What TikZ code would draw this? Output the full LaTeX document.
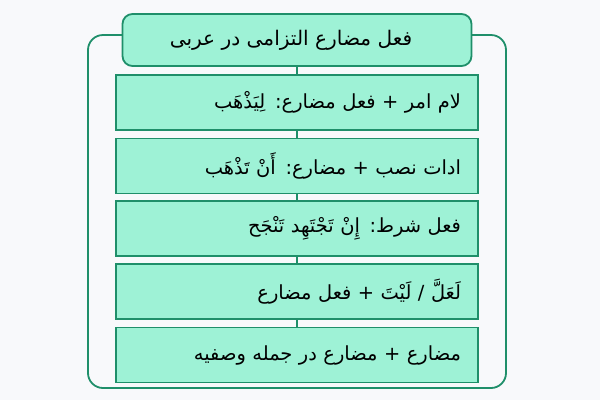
\documentclass[tikz,border=0pt]{standalone}
\usepackage{fontspec}
\usepackage{tikz}
\TeXXeTstate=1
\newfontfamily\arabicfont[Script=Arabic]{DejaVu Sans}
\definecolor{bgpage}{HTML}{F8F9FB}
\definecolor{mint}{HTML}{9EF2D6}
\definecolor{deepgreen}{HTML}{1F8F6A}
\tikzset{
    titlebox/.style={rectangle, rounded corners=10bp, draw=deepgreen, line width=1.8bp, fill=mint,
        minimum width=349bp, minimum height=52bp, font=\arabicfont\fontsize{20.2}{24}\selectfont},
    itembox/.style={rectangle, draw=deepgreen, line width=1.8bp, fill=mint,
        minimum width=362bp, minimum height=55bp, text width=328bp, align=right,
        inner xsep=17bp, font=\arabicfont\fontsize{19.5}{23}\selectfont},
    link/.style={deepgreen, line width=1.8bp},
}
\begin{document}
\begin{tikzpicture}[x=1bp, y=-1bp]
                    \fill[bgpage] (0, 0) rectangle (600, 400);
                    \useasboundingbox (0, 0) rectangle (600, 400);
                    \draw[link, rounded corners=15bp] (88, 35) rectangle (506, 388);

                    \node (TITLE) [titlebox] at (297, 40) {\beginR فعل مضارع التزامی در عربی\endR\kern12bp};
                    \node (LAM) [itembox] at (297, 102.5) {\beginR لام امر + فعل مضارع: لِيَذْهَب\endR};
                    \node (NASB) [itembox] at (297, 166) {\beginR ادات نصب + مضارع: أَنْ تَذْهَب\endR};
                    \node (SHART) [itembox] at (297, 228.5) {\beginR فعل شرط: إِنْ تَجْتَهِد تَنْجَح\endR};
                    \node (LAALLA) [itembox] at (297, 291.5) {\beginR لَعَلَّ / لَيْتَ + فعل مضارع\endR};
                    \node (WASF) [itembox] at (297, 355) {\beginR مضارع + مضارع در جمله وصفیه\endR};

                    \draw[link] (TITLE) edge (LAM);
                    \draw[link] (LAM) edge (NASB);
                    \draw[link] (NASB) edge (SHART);
                    \draw[link] (SHART) edge (LAALLA);
                    \draw[link] (LAALLA) edge (WASF);
                \end{tikzpicture}
\end{document}
